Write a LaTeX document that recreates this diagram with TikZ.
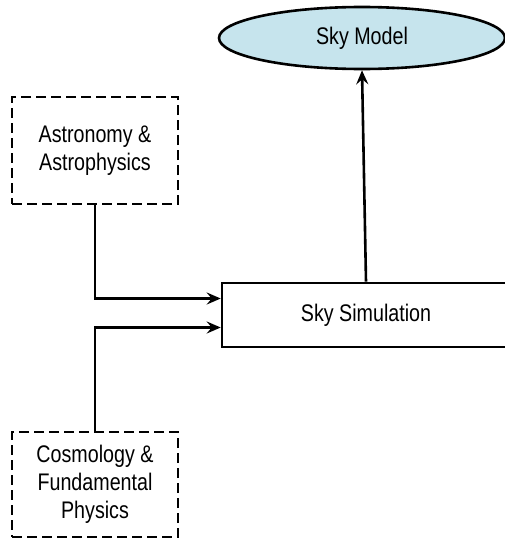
\documentclass[tikz,border=0pt]{standalone}
\usepackage{fontspec}
\setmainfont{Liberation Sans}[FakeStretch=0.82]
\usetikzlibrary{arrows.meta,shapes.geometric,calc}
\definecolor{skyblue}{RGB}{198,228,237}
\begin{document}
\begin{tikzpicture}[x=1pt,y=-1pt,
  lbl/.style={font=\fontsize{24}{28}\selectfont, align=center, inner sep=0pt},
  srcbox/.style={lbl, draw, line width=2.6pt, dash pattern=on 10pt off 5pt, minimum width=166pt},
  simbox/.style={lbl, draw, line width=2.6pt, minimum width=288pt, minimum height=64pt},
  modelell/.style={lbl, ellipse, draw, line width=2.6pt, fill=skyblue, minimum width=286pt, minimum height=62pt},
  conn/.style={line width=2.6pt, -{Stealth[length=14pt,width=12pt,inset=5pt]}}]
\useasboundingbox (0,0) rectangle (505,538);
\clip (0,0) rectangle (505,538);
\node[modelell] (model) at (362,38) {Sky Model};
\node[simbox] (sim) at (366,315) {Sky Simulation};
\node[srcbox, minimum height=107pt] (astro) at (95,150.5) {Astronomy \&\\Astrophysics};
\node[srcbox, minimum height=105pt] (cosmo) at (95,484.5) {Cosmology \&\\Fundamental\\Physics};
\coordinate (inA) at ($(sim.west)+(0,-16.5)$);
\coordinate (inB) at ($(sim.west)+(0,12.5)$);
\draw[conn] (sim.north) -- (model.south);
\draw[conn] (astro.south) |- (inA);
\draw[conn] (cosmo.north) |- (inB);
\end{tikzpicture}
\end{document}
